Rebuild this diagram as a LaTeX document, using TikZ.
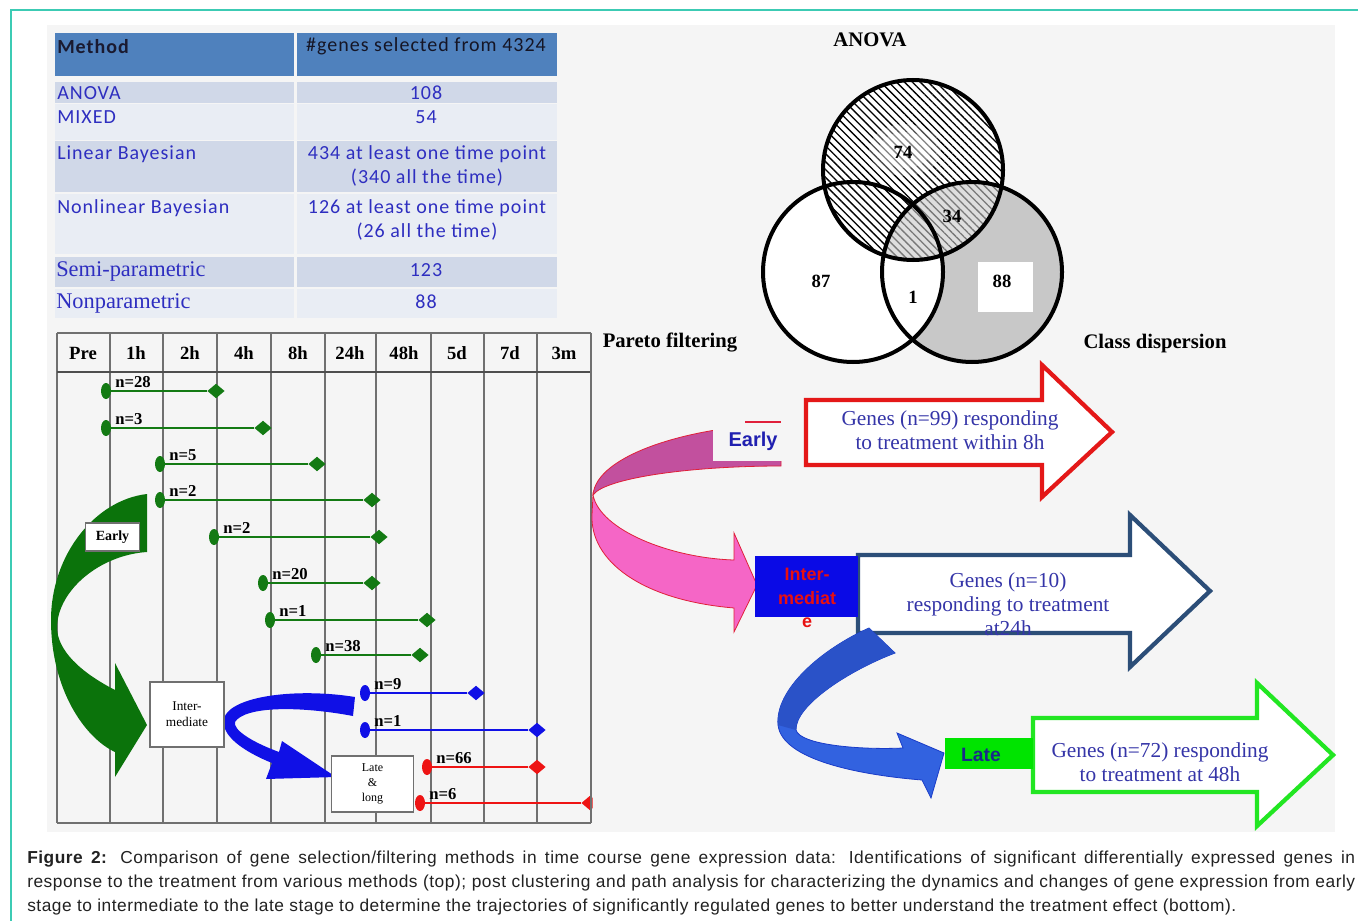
\documentclass[tikz,border=0pt]{standalone}
\usepackage{fontspec}
\setmainfont{Liberation Serif}
\newfontfamily\calib[LetterSpace=5]{Carlito}
\newfontfamily\arialf{Liberation Sans}
\newfontfamily\capfont[LetterSpace=3]{Liberation Sans}
\usetikzlibrary{shapes.geometric,patterns.meta}
\definecolor{frameteal}{HTML}{3CCBB4}
\definecolor{panelgray}{HTML}{F5F5F5}
\definecolor{hdrblue}{HTML}{4F81BD}
\definecolor{rowdark}{HTML}{D0D8E8}
\definecolor{rowlight}{HTML}{E9EDF4}
\definecolor{tabtext}{HTML}{2E2EC0}
\definecolor{gridgray}{HTML}{707070}
\definecolor{tlgreen}{HTML}{137A13}
\definecolor{tlblue}{HTML}{1010E6}
\definecolor{tlred}{HTML}{EE1414}
\definecolor{earlygreen}{HTML}{0B730B}
\definecolor{pinkdark}{HTML}{C2509E}
\definecolor{pinklight}{HTML}{F566C6}
\definecolor{ribbonedge}{HTML}{E0203A}
\definecolor{arrowred}{HTML}{E41818}
\definecolor{arrownavy}{HTML}{2C4E78}
\definecolor{arrowgreen}{HTML}{22E622}
\definecolor{boxblue}{HTML}{0A0AE6}
\definecolor{boxgreen}{HTML}{00E400}
\definecolor{textblue}{HTML}{3535A8}
\definecolor{venngray}{HTML}{C8C8C8}
\definecolor{ribbonblue}{HTML}{3262E0}
\definecolor{ribbonbluedark}{HTML}{2A52C8}
\definecolor{ribbonblueedge}{HTML}{1A3CC8}
\definecolor{captext}{HTML}{222222}
\definecolor{hdrtext}{HTML}{1A1A30}
\definecolor{hdrtext2}{HTML}{151525}
\definecolor{earlytext}{HTML}{2020B0}
\definecolor{intertext}{HTML}{E81010}
\definecolor{latetext}{HTML}{1A2A8A}
\newcommand{\fsz}[2]{\fontsize{#1}{#2}\selectfont}
\begin{document}
\begin{tikzpicture}[x=0.75pt,y=-0.75pt,
  tabl/.style={inner sep=0pt,text=tabtext,font=\calib\fsz{15}{18}},
  tabs/.style={inner sep=0pt,text=tabtext,font=\fsz{16.8}{19}},
  thead/.style={inner sep=0pt,font=\bfseries\fsz{14}{16}},
  nlab/.style={inner sep=0pt,font=\bfseries\fsz{12.5}{14}},
  vnum/.style={inner sep=0pt,font=\bfseries\fsz{14}{16}},
  vlab/.style={inner sep=0pt,font=\bfseries\fsz{15.5}{18}},
  tdot/.style={ellipse,inner sep=0pt,minimum width=7.5pt,minimum height=12pt},
  tdia/.style={diamond,inner sep=0pt,minimum width=13pt,minimum height=11pt},
  smallbox/.style={draw=gridgray,fill=white,line width=0.8pt,inner sep=0pt,align=center,font=\fsz{10}{12}},
  arrowtext/.style={inner sep=0pt,align=center,text=textblue,font=\fsz{16}{18}},
  blockarrow/.style={draw=#1,line width=3.2pt,fill=white,line join=miter},
]
\useasboundingbox (0,0) rectangle (1358,920);
\fill[white] (0,0) rectangle (1358,920);
\draw[frameteal,line width=1.5pt] (11,925) -- (11,10) -- (1362,10);
\fill[panelgray] (47,25) rectangle (1335,832);

% ---------------- table ----------------
\fill[hdrblue] (55,33) rectangle (294,76);
\fill[hdrblue] (297,33) rectangle (557,76);
\foreach \ya/\yb/\c in {82/103/rowdark,104/140/rowlight,141/192/rowdark,194/254/rowlight,257/287/rowdark,289/318/rowlight}{
  \fill[\c] (55,\ya) rectangle (294,\yb);
  \fill[\c] (297,\ya) rectangle (557,\yb);
}
\node[inner sep=0pt,anchor=west,text=hdrtext] (thm) at (57,47) {\calib\bfseries\fsz{15}{18}Method};
\node[inner sep=0pt,text=hdrtext2] (thg) at (426,46) {\calib\fsz{15}{18}\#genes selected from 4324};
\node[tabl,anchor=west] (m1) at (57,93) {ANOVA};
\node[tabl] (v1) at (426,93) {108};
\node[tabl,anchor=west] (m2) at (57,117) {MIXED};
\node[tabl] (v2) at (426,117) {54};
\node[tabl,anchor=west] (m3) at (57,154) {Linear Bayesian};
\node[tabl] (v3a) at (427,154) {434 at least one time point};
\node[tabl] (v3b) at (427,178) {(340 all the time)};
\node[tabl,anchor=west] (m4) at (57,208) {Nonlinear Bayesian};
\node[tabl] (v4a) at (427,208) {126 at least one time point};
\node[tabl] (v4b) at (427,232) {(26 all the time)};
\node[tabs,anchor=west] (m5) at (56,271) {Semi-parametric};
\node[tabl] (v5) at (426,270) {123};
\node[tabs,anchor=west] (m6) at (56,303) {Nonparametric};
\node[tabl] (v6) at (426,302) {88};

% ---------------- Venn ----------------
\fill[venngray] (972,272) circle[radius=90];
\fill[white] (853,272) circle[radius=90];
\fill[white] (913,170) circle[radius=90];
\fill[pattern={Lines[angle=-45,distance=4.2pt,line width=1pt]},pattern color=black] (913,170) circle[radius=90];
\begin{scope}
  \clip (972,272) circle[radius=90];
  \fill[venngray,opacity=0.6] (913,170) circle[radius=90];
\end{scope}
\fill[white,opacity=0.3] (905,150) ellipse[x radius=36,y radius=26];
\fill[white,opacity=0.3] (905,150) ellipse[x radius=26,y radius=18];
\fill[white] (978,262) rectangle (1033,312);
\fill[white,opacity=0.8] (895,275) rectangle (928,305);
\draw[line width=3pt] (913,170) circle[radius=90];
\draw[line width=3pt] (853,272) circle[radius=90];
\draw[line width=3pt] (972,272) circle[radius=90];
\node[vlab] (vanova) at (870,40) {ANOVA};
\node[vnum] (n74) at (903,152) {74};
\node[vnum] (n34) at (952,216) {34};
\node[vnum] (n87) at (821,281) {87};
\node[vnum] (n1) at (913,297) {1};
\node[vnum] (n88) at (1002,281) {88};
\node[vlab] (vpareto) at (670,343) {Pareto filtering};
\node[vlab] (vclass) at (1155,344) {Class dispersion};

% ---------------- timeline ----------------
\begin{scope}
\clip (50,330) rectangle (592.5,826);
\foreach \x in {57,110,163,217,271,325,376,431,484,537,591}
  \draw[gridgray,line width=1.1pt] (\x,333) -- (\x,823);
\draw[gridgray,line width=1.3pt] (57,333) -- (591,333);
\draw[gridgray!70!black,line width=1.5pt] (57,372) -- (591,372);
\draw[gridgray,line width=1.3pt] (57,823) -- (591,823);
\foreach \x/\t in {83/Pre,136/1h,190/2h,244/4h,298/8h,350/24h,404/48h,457/5d,510/7d,564/3m}
  \node[thead] (h\t) at (\x,353) {\t};
% green early arrow
\fill[earlygreen] (147,494) .. controls (95,500) and (51,555) .. (51,620)
  .. controls (51,690) and (85,738) .. (115,752) -- (115,777) -- (147,725) -- (115,663) -- (115,690)
  .. controls (80,672) and (57,650) .. (57,627) .. controls (58,590) and (100,555) .. (147,552) -- cycle;
\node[smallbox,minimum width=41pt,minimum height=21pt,font=\bfseries\fsz{10.5}{12}] (bearly) at (112.5,537) {Early};
% blue arrow
\fill[tlblue] (355,697) .. controls (300,688) and (232,695) .. (224,718)
  .. controls (220,736) and (245,752) .. (272,763) -- (266,779) -- (336,777) -- (282,741) -- (279,752)
  .. controls (252,742) and (233,730) .. (235,722) .. controls (245,706) and (300,706) .. (353,716) -- cycle;
\node[smallbox,minimum width=55.5pt,minimum height=48.75pt] (binter) at (187,714.5) {Inter-\\mediate};
\node[smallbox,minimum width=61pt,minimum height=42pt,font=\fsz{9}{11}] (blate) at (372.5,784) {Late\\\&\\long};
% markers
\foreach \i/\y/\a/\b/\lab/\c in {1/391/106/216/28/tlgreen,2/428/106/263/3/tlgreen,3/464/160/317/5/tlgreen,4/500/160/372/2/tlgreen,5/537/214/379/2/tlgreen,6/583/263/372/20/tlgreen,7/620/270/427/1/tlgreen,8/655/316/420/38/tlgreen,9/693/365/476/9/tlblue,10/730/365/537/1/tlblue,11/767/427/537/66/tlred,12/803/420/590/6/tlred}{
  \node[tdot,fill=\c] (s\i) at (\a,\y) {};
  \node[tdia,fill=\c] (e\i) at (\b,\y) {};
  \draw[\c,line width=2.2pt] (s\i) -- (e\i);
  \node[nlab,anchor=base west] (l\i) at (\a+9,\y-4) {n=\lab};
}
\end{scope}
\draw[gridgray,line width=1.1pt] (591,333) -- (591,823);

% ---------------- right side ----------------
\draw[blockarrow=arrowred] (806,400) -- (1042,400) -- (1042,365) -- (1112,432) -- (1042,497) -- (1042,465) -- (806,465) -- cycle;
\node[arrowtext] (tred) at (950,430) {Genes (n=99) responding\\to treatment within 8h};
\draw[blockarrow=arrownavy] (858,555) -- (1130,555) -- (1130,515) -- (1210,591) -- (1130,667) -- (1130,633) -- (858,633) -- cycle;
\node[arrowtext] (tnavy) at (1008,604) {Genes (n=10)\\responding to treatment\\at24h};
\draw[blockarrow=arrowgreen] (1033,718) -- (1257,718) -- (1257,683) -- (1333,755) -- (1257,826) -- (1257,792) -- (1033,792) -- cycle;
\node[arrowtext] (tgreen) at (1160,762) {Genes (n=72) responding\\to treatment at 48h};

% pink ribbon
\filldraw[fill=pinklight,draw=ribbonedge,line width=0.6pt] (593,495) .. controls (600,530) and (670,558) .. (734,560)
  -- (734,533) -- (757,585) -- (734,632) -- (734,608) .. controls (640,600) and (590,560) .. (592,515) -- cycle;
\filldraw[fill=pinkdark,draw=ribbonedge,line width=0.6pt] (781,424) .. controls (690,426) and (596,455) .. (593,495)
  .. controls (605,478) and (690,466) .. (781,466) -- cycle;
\fill[panelgray] (713,421) rectangle (784,461);
\draw[ribbonedge,line width=1pt] (745,422) -- (781,422);
\node[inner sep=0pt,text=earlytext,font=\arialf\bfseries\fsz{15}{18}] (tearly) at (753,441) {Early};
\node[fill=boxblue,minimum width=77pt,minimum height=45.75pt,inner sep=0pt] (binter2) at (806.5,586.5) {};
\node[inner sep=0pt,align=center,text=intertext,font=\arialf\bfseries\fsz{13.5}{17.5}] (tinter2) at (807,598) {Inter-\\mediat\\e};
% blue ribbon
\filldraw[fill=ribbonblue,draw=ribbonblueedge,line width=0.6pt] (869,628) .. controls (820,650) and (775,690) .. (778,725)
  .. controls (782,760) and (860,775) .. (922,780) -- (931,798) -- (944,753) -- (897,733) -- (903,748)
  .. controls (860,750) and (800,745) .. (796,730) .. controls (795,705) and (850,670) .. (895,653) -- cycle;
\fill[ribbonbluedark] (869,628) .. controls (820,650) and (775,690) .. (778,725) -- (796,730)
  .. controls (795,705) and (850,670) .. (895,653) -- cycle;
\node[fill=boxgreen,minimum width=66pt,minimum height=23.25pt,inner sep=0pt] (blate2) at (989,753.5) {};
\node[inner sep=0pt,text=latetext,font=\arialf\bfseries\fsz{14.5}{17}] (tlate2) at (981,755) {Late};

% ---------------- caption ----------------
\node[anchor=north west,inner sep=0pt,text width=996pt,align=justify,text=captext,font=\capfont\fsz{13}{18}] (cap) at (27,851)
{\textbf{Figure 2:} Comparison of gene selection/filtering methods in time course gene expression data: Identifications of significant differentially expressed genes in\linebreak response to the treatment from various methods (top); post clustering and path analysis for characterizing the dynamics and changes of gene expression from early\linebreak stage to intermediate to the late stage to determine the trajectories of significantly regulated genes to better understand the treatment effect (bottom).};
\end{tikzpicture}
\end{document}
